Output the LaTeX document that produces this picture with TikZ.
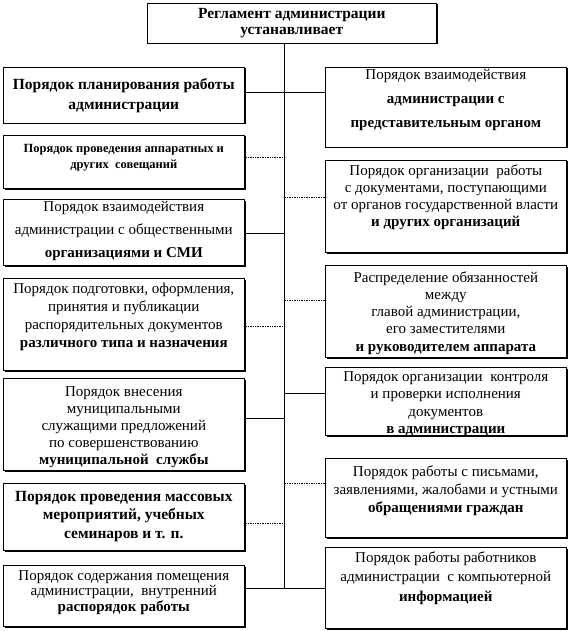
\documentclass[tikz,border=0pt]{standalone}
\usepackage{fontspec}
\setmainfont{Liberation Serif}[BoldFont={Liberation Serif Bold}]
\usetikzlibrary{shadows}

% box text: height, width, top gap, content
\newcommand{\boxtxt}[4]{\parbox[c][#1][t]{#2}{\centering\vspace*{#3}#4\par}}
\newcommand{\fs}[2]{\fontsize{#1}{#2}\selectfont}

\tikzset{
  blk/.style={draw, line width=0.6pt, fill=white, inner sep=0pt, anchor=north west,
    drop shadow={shadow xshift=1.2pt, shadow yshift=-1.2pt, opacity=1, fill=black}},
  con/.style={line width=0.7pt},
  dcon/.style={line width=0.7pt, densely dotted}
}

\begin{document}
\begin{tikzpicture}[x=1pt, y=-1pt]
            \useasboundingbox (0,0) rectangle (570,631);
            \coordinate (tr) at (284,589);

            % Top - the regulation
            \node[blk] (top) at (147,3) {\boxtxt{40pt}{289pt}{5pt}{\fs{15.5}{16}\bfseries Регламент администрации\\устанавливает}};

            % Left column
            \node[blk] (l1) at (3,67) {\boxtxt{56pt}{241pt}{11pt}{\fs{15.5}{20}\bfseries Порядок планирования работы\\администрации}};
            \node[blk] (l2) at (3,135) {\boxtxt{53pt}{241pt}{9pt}{\fs{12.5}{16}\bfseries Порядок проведения аппаратных и\\других\ \ совещаний}};
            \node[blk] (l3) at (3,199) {\boxtxt{66pt}{241pt}{2pt}{\fs{15}{23}Порядок взаимодействия\\администрации с общественными\\\textbf{организациями и СМИ}}};
            \node[blk] (l4) at (3,278) {\boxtxt{92pt}{241pt}{5pt}{\fs{15}{18}Порядок подготовки, оформления,\\принятия и публикации\\распорядительных документов\\\textbf{различного типа и назначения}}};
            \node[blk] (l5) at (3,378) {\boxtxt{92pt}{241pt}{8pt}{\fs{15}{17}Порядок внесения\\муниципальными\\служащими предложений\\по совершенствованию\\\textbf{муниципальной\ \ службы}}};
            \node[blk] (l6) at (3,483) {\boxtxt{67pt}{241pt}{8pt}{\fs{15.5}{18.5}\bfseries Порядок проведения массовых\\мероприятий, учебных\\семинаров и т. п.}};
            \node[blk] (l7) at (3,565) {\boxtxt{61pt}{241pt}{5pt}{\fs{15}{15.5}Порядок содержания помещения\\администрации,\ \ внутренний\\\textbf{распорядок работы}}};

            % Right column
            \node[blk] (r1) at (325,67) {\boxtxt{80pt}{241pt}{2pt}{\fs{15}{24}Порядок взаимодействия\\\textbf{администрации с}\\\textbf{представительным органом}}};
            \node[blk] (r2) at (325,160) {\boxtxt{92pt}{241pt}{4pt}{\fs{15}{17}Порядок организации\ \ работы\\с документами, поступающими\\от органов государственной власти\\\textbf{и других организаций}}};
            \node[blk] (r3) at (325,265) {\boxtxt{92pt}{241pt}{6pt}{\fs{15}{17.3}Распределение обязанностей\\между\\главой администрации,\\его заместителями\\\textbf{и руководителем аппарата}}};
            \node[blk] (r4) at (325,367) {\boxtxt{68pt}{241pt}{4pt}{\fs{15}{17.5}Порядок организации\ \ контроля\\и проверки исполнения\\документов\\\textbf{в администрации}}};
            \node[blk] (r5) at (325,458) {\boxtxt{79pt}{241pt}{7pt}{\fs{15}{18}Порядок работы с письмами,\\заявлениями, жалобами и устными\\\textbf{обращениями граждан}}};
            \node[blk] (r6) at (325,547) {\boxtxt{81pt}{241pt}{4pt}{\fs{15}{19.5}Порядок работы работников\\администрации\ \ с компьютерной\\\textbf{информацией}}};

            % Trunk
            \draw[con] (top.south -| tr) -- (tr);

            % Left connectors
            \draw[con]  ([yshift=3pt]l1.east) -- ([yshift=3pt]l1.east -| tr);
            \draw[dcon] ([yshift=4.5pt]l2.east) -- ([yshift=4.5pt]l2.east -| tr);
            \draw[con]  ([yshift=-1pt]l3.east) -- ([yshift=-1pt]l3.east -| tr);
            \draw[dcon] ([yshift=-2pt]l4.east) -- ([yshift=-2pt]l4.east -| tr);
            \draw[con]  ([yshift=6pt]l5.east) -- ([yshift=6pt]l5.east -| tr);
            \draw[dcon] ([yshift=-6.5pt]l6.east) -- ([yshift=-6.5pt]l6.east -| tr);
            \draw[con]  ([yshift=7.5pt]l7.east) -- ([yshift=7.5pt]l7.east -| tr);

            % Right connectors
            \draw[con]  ([yshift=15pt]r1.west) -- ([yshift=15pt]r1.west -| tr);
            \draw[dcon] ([yshift=9pt]r2.west) -- ([yshift=9pt]r2.west -| tr);
            \draw[dcon] ([yshift=11pt]r3.west) -- ([yshift=11pt]r3.west -| tr);
            \draw[con]  ([yshift=8pt]r4.west) -- ([yshift=8pt]r4.west -| tr);
            \draw[dcon] ([yshift=14.5pt]r5.west) -- ([yshift=14.5pt]r5.west -| tr);
            \draw[con]  ([yshift=-0.5pt]r6.west) -- ([yshift=-0.5pt]r6.west -| tr);
        \end{tikzpicture}
\end{document}
